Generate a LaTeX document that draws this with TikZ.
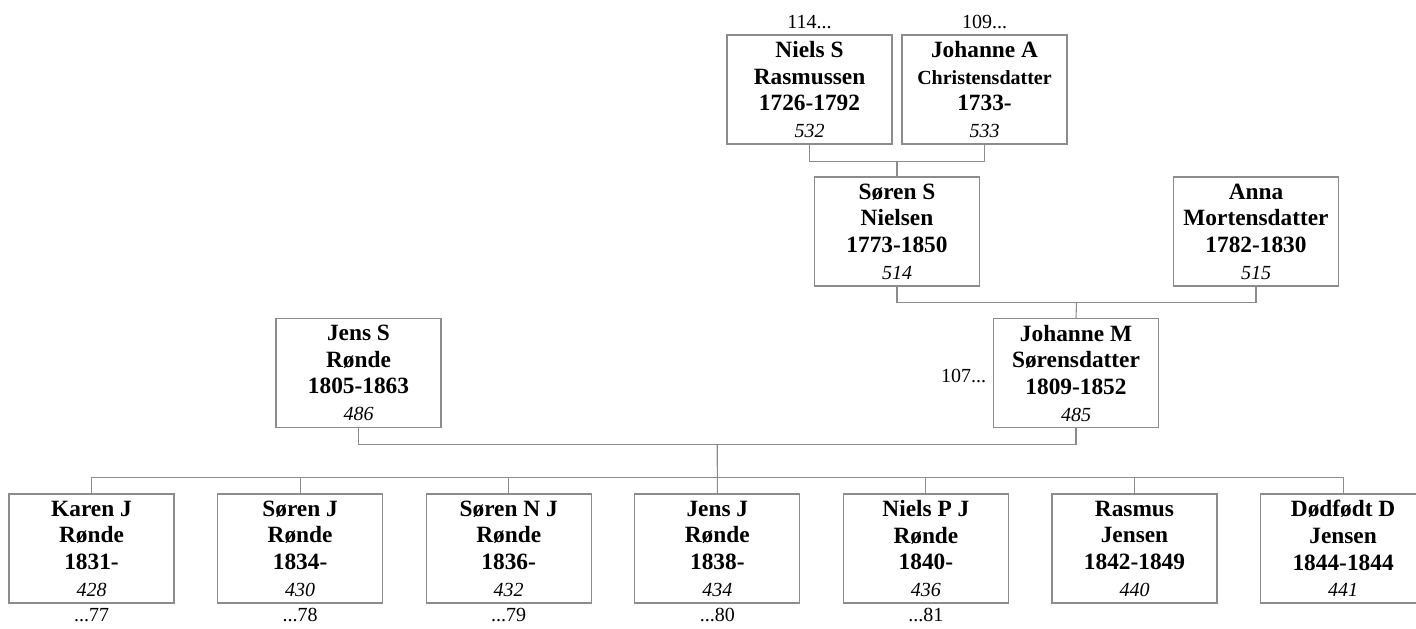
\documentclass[tikz,border=0pt]{standalone}
\usepackage{fontspec}
\setmainfont{Liberation Serif}
\usepackage{tikz}
\usetikzlibrary{positioning, calc}
\definecolor{boxline}{HTML}{8C8C8C}

\tikzset{
  person/.style={draw=boxline, line width=0.8pt, minimum width=123.75pt,
    minimum height=81.75pt, inner sep=0pt, align=center,
    font=\fontsize{17.5}{20}\selectfont\bfseries},
  link/.style={draw=boxline, line width=0.8pt},
  ref/.style={font=\fontsize{15}{17}\selectfont, inner sep=1pt,
    text height=10.5pt, text depth=0pt},
}
\newcommand{\pid}[1]{{\fontsize{15}{19}\selectfont\mdseries\itshape #1}}

\begin{document}
\begin{tikzpicture}[x=0.75pt, y=-0.75pt]
  \useasboundingbox (0,0) rectangle (1416,628);

  % Grandparents and parents
  \node[person] (niels) at (809.5,89.5) {Niels S\\Rasmussen\\1726-1792\\\pid{532}};
  \node[person] (johA) at (984.5,89.5)
    {Johanne A\\{\fontsize{15}{20}\selectfont Christensdatter}\\1733-\\\pid{533}};
  \node[person] (soren) at (897,231.5) {Søren S\\Nielsen\\1773-1850\\\pid{514}};
  \node[person] (anna) at (1256,231.5) {Anna\\Mortensdatter\\1782-1830\\\pid{515}};
  \node[person] (johM) at (1076,373) {Johanne M\\Sørensdatter\\1809-1852\\\pid{485}};
  \node[person] (jens) at (358.5,373) {Jens S\\Rønde\\1805-1863\\\pid{486}};

  % Children
  \foreach \i/\first/\last/\yrs/\id in {1/Karen J/Rønde/1831-/428,
      2/Søren J/Rønde/1834-/430, 3/Søren N J/Rønde/1836-/432,
      4/Jens J/Rønde/1838-/434, 5/Niels P J/Rønde/1840-/436,
      6/Rasmus/Jensen/1842-1849/440, 7/Dødfødt D/Jensen/1844-1844/441} {
    \node[person] (kid\i) at ({91.5+208.6*(\i-1)},548.5)
      {\first\\\last\\\yrs\\\pid{\id}};
  }

  % Cross references
  \node[ref, above=3pt of niels] (up1) {114...};
  \node[ref, above=3pt of johA] (up2) {109...};
  \node[ref, left=4pt of johM, yshift=-2pt] (up3) {107...};
  \foreach \i/\more in {1/77, 2/78, 3/79, 4/80, 5/81} {
    \node[ref, below=2pt of kid\i] (more\i) {...\more};
  }

  % Family lines
  \coordinate (g1) at ($(niels.south)!0.5!(johA.south)+(0,17)$);
  \draw[link] (niels.south) |- (g1) -| (johA.south);
  \draw[link] (g1) -- (soren.north);

  \coordinate (g2) at ($(soren.south)!0.5!(anna.south)+(0,16)$);
  \draw[link] (soren.south) |- (g2) -| (anna.south);
  \draw[link] (g2) -- (johM.north);

  \coordinate (g3) at ($(jens.south)!0.5!(johM.south)+(0,16)$);
  \draw[link] (jens.south) |- (g3) -| (johM.south);
  \draw[link] (g3) -- (kid4.north);
  \draw[link] ($(kid1.north)+(0,-16)$) -- ($(kid7.north)+(0,-16)$);
  \foreach \i in {1,...,7} {
    \draw[link] (kid\i.north) -- ++(0,-16);
  }
\end{tikzpicture}
\end{document}
